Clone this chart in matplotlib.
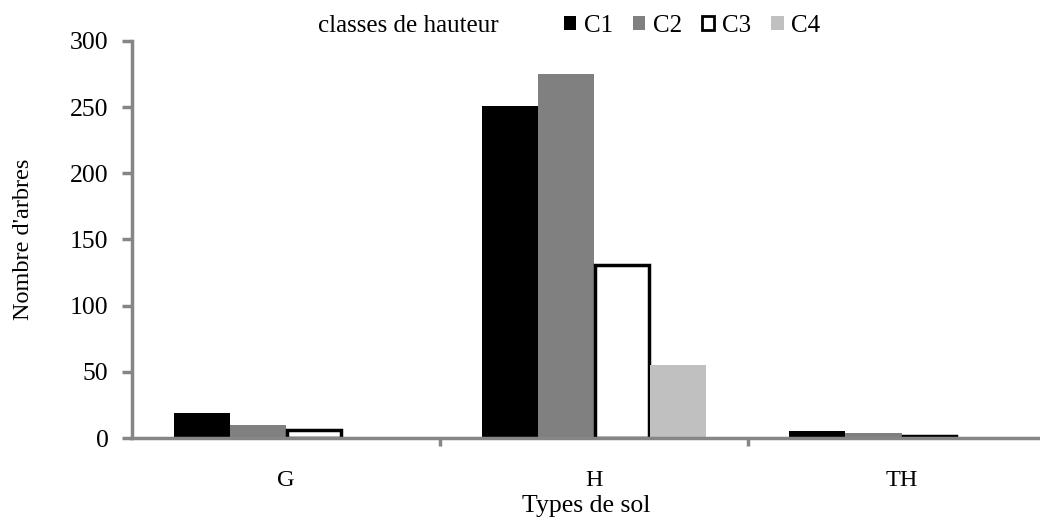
import matplotlib
matplotlib.use("Agg")
import matplotlib.pyplot as plt
import numpy as np
from matplotlib.patches import Patch

plt.rcParams['font.family'] = ['Liberation Serif', 'DejaVu Serif']

categories = ["G", "H", "TH"]
series_names = ["C1", "C2", "C3", "C4"]
C1 = [19, 251, 5]
C2 = [10, 275, 4]
C3 = [6, 131, 1.5]
C4 = [0, 55, 0]
yticks = [0, 50, 100, 150, 200, 250, 300]

values = [C1, C2, C3, C4]
faces = ["#000000", "#808080", "#ffffff", "#c0c0c0"]
edges = ["#000000", "#808080", "#000000", "#c0c0c0"]
lws = [0, 0, 2.5, 0]

fig = plt.figure(figsize=(10.4, 5.18), dpi=100)
ax = fig.add_axes([0.127, 0.1544, 0.873, 0.7666])

x = np.arange(len(categories))
w = 0.182
for i, (vals, fc, ec, lw) in enumerate(zip(values, faces, edges, lws)):
    offs = (i - 1.5) * w
    h = np.array(vals, dtype=float)
    if lw > 0:
        ax.bar(x + offs, h, width=w * 0.96, color=fc, edgecolor=ec, linewidth=lw, zorder=2)
    else:
        ax.bar(x + offs, h, width=w, color=fc, edgecolor=ec, linewidth=0, zorder=2)

ax.set_xlim(-0.5, 2.45)
ax.set_ylim(0, 300)
ax.set_yticks(yticks)
ax.set_yticklabels([str(v) for v in yticks], fontsize=18.5)
ax.set_xticks(x)
ax.set_xticklabels(categories, fontsize=17.5)
ax.set_xticks([0.5, 1.5], minor=True)

gray = "#868686"
for s in ["top", "right"]:
    ax.spines[s].set_visible(False)
for s in ["left", "bottom"]:
    ax.spines[s].set_color(gray)
    ax.spines[s].set_linewidth(2.5)
    ax.spines[s].set_zorder(3)

ax.tick_params(axis='y', direction='out', length=7, width=2.5, color=gray, pad=10)
ax.tick_params(axis='x', which='major', length=0, pad=23)
ax.tick_params(axis='x', which='minor', direction='out', length=6, width=2.5, color=gray)

ax.set_ylabel("Nombre d'arbres", fontsize=17.5, labelpad=26)
ax.set_xlabel("Types de sol", fontsize=18.5, labelpad=3)

fig.text(0.306, 0.95, "classes de hauteur", fontsize=18, ha="left", va="center")
handles = [Patch(facecolor=f, edgecolor=e, linewidth=(2 if l > 0 else 0)) for f, e, l in zip(faces, edges, lws)]
fig.legend(handles, series_names, loc="center left", bbox_to_anchor=(0.530, 0.95),
           ncol=4, frameon=False, fontsize=18, handlelength=0.5, handleheight=0.5,
           handletextpad=0.3, columnspacing=0.8, borderpad=0)

fig.savefig("out.png", dpi=100)
